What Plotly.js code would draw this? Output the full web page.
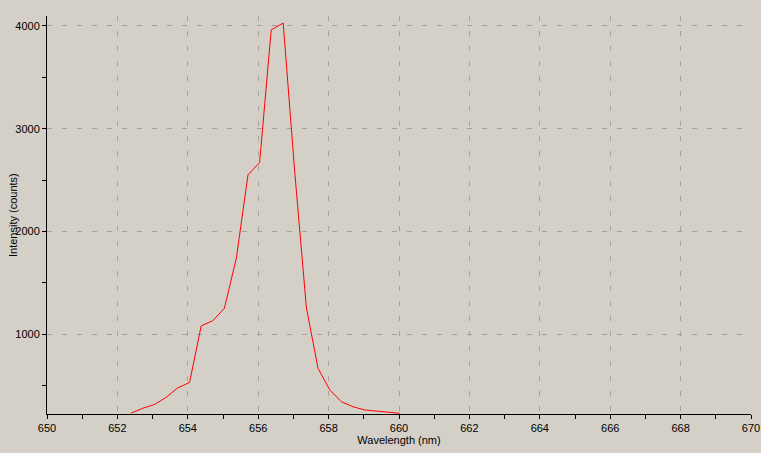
<!DOCTYPE html>
<html>
<head>
<meta charset="utf-8">
<script src="https://cdn.plot.ly/plotly-3.0.1.min.js"></script>
<style>
  html, body { margin: 0; padding: 0; background: #d4d0c8; }
  #myPlot { width: 761px; height: 453px; }
</style>
</head>
<body>
<div id="myPlot"></div>
<script>
// spectrum (wavelength in nm, intensity in counts)
let wavelength = [652.38, 652.72, 653.05, 653.38, 653.71, 654.05, 654.38, 654.71,
  655.04, 655.38, 655.71, 656.04, 656.37, 656.71, 657.04, 657.37, 657.70, 658.03,
  658.36, 658.69, 659.03, 659.36, 659.69, 660.02];
let intensity = [231, 280, 316, 385, 477, 531, 1081, 1132,
  1253, 1743, 2551, 2671, 3963, 4028, 2571, 1256, 669, 460,
  344, 295, 263, 250, 243, 231];

let xTicks = [650, 652, 654, 656, 658, 660, 662, 664, 666, 668, 670];
let yTicks = [1000, 2000, 3000, 4000];

let axisFont = { family: 'Liberation Sans, Arial, sans-serif', size: 11, color: '#000' };

var trace1 = {
  x: wavelength,
  y: intensity,
  type: 'scatter',
  mode: 'lines',
  line: { color: '#ff0000', width: 1 },
  hoverinfo: 'x+y'
};

var layout = {
  width: 761,
  height: 453,
  paper_bgcolor: '#d4d0c8',
  plot_bgcolor: '#d4d0c8',
  showlegend: false,
  margin: { l: 47, r: 10, t: 16, b: 39 },
  font: axisFont,
  xaxis: {
    range: [650, 670],
    tickvals: xTicks,
    ticktext: xTicks.map(String),
    ticks: 'outside',
    ticklen: 4,
    tickcolor: '#000',
    tickfont: axisFont,
    showline: true,
    linecolor: '#000',
    linewidth: 1,
    showgrid: true,
    gridcolor: '#a4a29c',
    griddash: '5px,10px',
    gridwidth: 1,
    zeroline: false,
    minor: { dtick: 1, tick0: 650, ticks: 'outside', ticklen: 4, tickcolor: '#000', showgrid: false },
    title: { text: 'Wavelength (nm)', font: axisFont, standoff: 3 }
  },
  yaxis: {
    range: [224, 4097],
    tickvals: yTicks,
    ticktext: yTicks.map(String),
    ticks: 'outside',
    ticklen: 4,
    tickcolor: '#000',
    tickfont: axisFont,
    showline: true,
    linecolor: '#000',
    linewidth: 1,
    showgrid: true,
    gridcolor: '#a4a29c',
    griddash: '5px,10px',
    gridwidth: 1,
    zeroline: false,
    minor: { dtick: 500, tick0: 0, ticks: 'outside', ticklen: 4, tickcolor: '#000', showgrid: false }
  },
  // y title as an annotation so it sits where the original has it
  annotations: [{
    text: 'Intensity (counts)',
    xref: 'paper', yref: 'paper',
    x: 0, y: 0.5,
    xanchor: 'center', yanchor: 'middle',
    xshift: -34,
    textangle: -90,
    showarrow: false,
    font: axisFont
  }]
};

Plotly.newPlot('myPlot', [trace1], layout, { displayModeBar: false, staticPlot: true });
</script>
</body>
</html>
